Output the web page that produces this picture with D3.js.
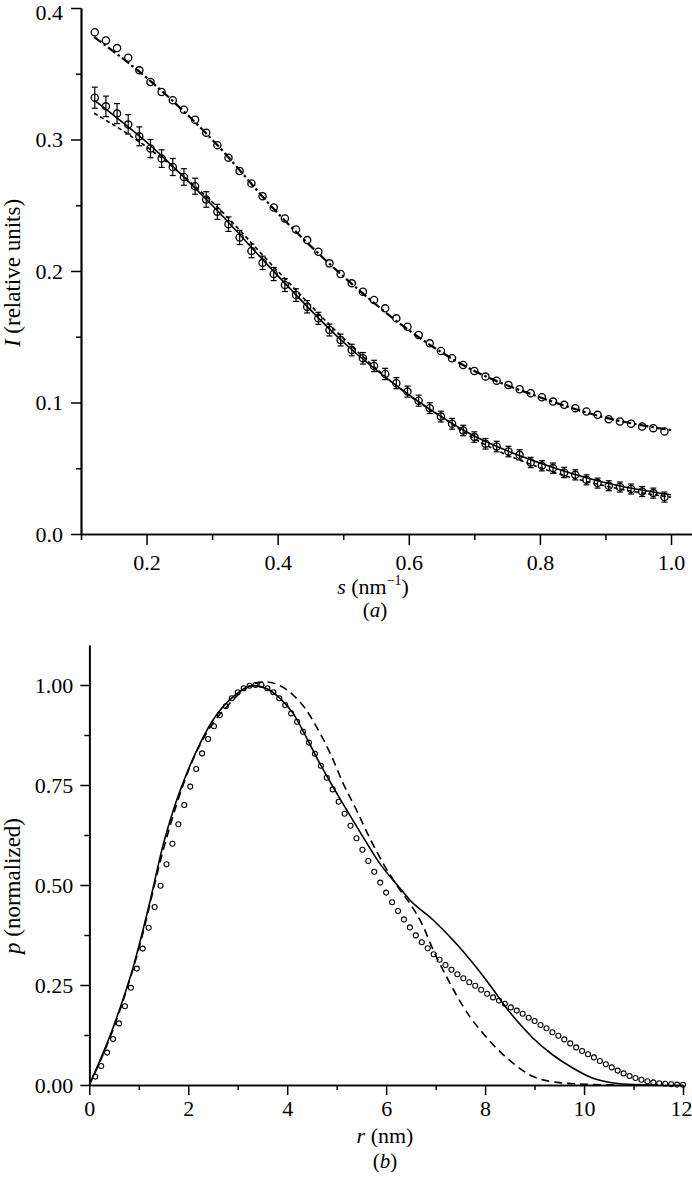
<!DOCTYPE html>
<html><head><meta charset="utf-8">
<script src="https://cdn.jsdelivr.net/npm/d3@7"></script>
<style>
body{margin:0;background:#fff}
svg{display:block}
</style>
</head><body>
<svg id="chart" width="692" height="1177"></svg>
<script>
// ---------- Panel (a) data ----------
const sGrid = [0.121,0.138,0.155,0.172,0.189,0.206,0.223,0.240,0.257,0.274,0.291,0.308,0.325,0.342,0.360,0.377,0.394,0.411,0.428,0.445,0.462,0.479,0.496,0.513,0.530,0.547,0.564,0.581,0.598,0.615,0.632,0.649,0.666,0.683,0.700,0.717,0.734,0.752,0.769,0.786,0.803,0.820,0.837,0.854,0.871,0.888,0.905,0.922,0.939,0.956,0.973,0.990];
const upperObs = [0.3816,0.3753,0.3695,0.3622,0.3526,0.3437,0.3361,0.3298,0.3227,0.3151,0.3052,0.2956,0.2862,0.2761,0.2665,0.2569,0.2483,0.2399,0.2316,
  0.2235,0.2146,0.2058,0.1977,0.1906,0.1842,0.1779,0.1716,0.1640,0.1576,0.1513,0.1450,0.1392,0.1336,0.1285,0.1240,0.1197,0.1166,0.1134,0.1101,0.1071,0.1040,0.1007,0.0982,0.0957,0.0931,0.0906,0.0873,0.0855,0.0838,0.0817,0.0805,0.0779];
const lowerObs = [0.3318,0.3252,0.3197,0.3115,0.3024,0.2931,0.2855,0.2791,0.2715,0.2645,0.2544,0.2450,0.2356,0.2255,0.2153,0.2062,0.1977,0.1893,0.1817,
  0.1728,0.1640,0.1551,0.1475,0.1399,0.1336,0.1278,0.1217,0.1147,0.1083,0.1014,0.0957,0.0893,0.0838,0.0787,0.0737,0.0686,0.0665,0.0627,0.0602,0.0544,0.0519,0.0501,0.0468,0.0450,0.0412,0.0387,0.0367,0.0357,0.0342,0.0323,0.0311,0.0281];
const lowerErr = [0.0080,0.0078,0.0076,0.0074,0.0072,0.0069,0.0067,0.0065,0.0063,0.0061,0.0059,0.0057,0.0055,0.0054,0.0052,0.0051,0.0050,0.0049,0.0048,0.0047,0.0046,0.0045,0.0045,0.0044,0.0044,0.0043,0.0043,0.0042,0.0042,0.0042,0.0041,0.0041,0.0041,0.0040,0.0040,0.0040,0.0040,0.0040,0.0039,0.0039,0.0039,0.0039,0.0039,0.0039,0.0038,0.0038,0.0038,0.0038,0.0038,0.0038,0.0038,0.0038];
// fit curves (knots)
const upperFitS = [0.12,0.2,0.3,0.4,0.5,0.6,0.7,0.8,0.9,1.0];
const upperFitI = [0.378,0.347,0.300,0.244,0.196,0.155,0.124,0.104,0.0885,0.079];
const lowerSolidS = [0.12,0.2,0.3,0.4,0.5,0.6,0.7,0.8,0.9,1.0];
const lowerSolidI = [0.330,0.298,0.250,0.1965,0.146,0.106,0.0745,0.054,0.039,0.0298];
const lowerDashS = [0.12,0.175,0.22,0.3,0.4,0.5,0.6,0.65,0.7,0.8,0.9,1.0];
const lowerDashI = [0.320,0.303,0.287,0.2525,0.200,0.149,0.1055,0.089,0.0725,0.0505,0.0365,0.028];
const sMajorTicks = [0.2,0.4,0.6,0.8,1.0];
const sMinorTicks = [0.1,0.3,0.5,0.7,0.9];
const iMajorTicks = [0.0,0.1,0.2,0.3,0.4];
const iMinorTicks = [0.05,0.15,0.25,0.35];

// ---------- Panel (b) data ----------
const rGrid = [0.12,0.24,0.36,0.48,0.60,0.72,0.84,0.96,1.08,1.20,1.32,1.44,1.56,1.68,1.80,1.92,2.04,2.16,2.28,2.40,2.52,2.64,2.76,2.88,3.00,3.12,3.24,3.36,3.48,3.60,3.72,3.84,3.96,4.08,4.20,4.32,4.44,4.56,4.68,4.80,4.92,5.04,5.16,5.28,5.40,5.52,5.64,5.76,5.88,6.00,6.12,6.24,6.36,6.48,6.60,6.72,6.84,6.96,7.08,7.20,7.32,7.44,7.56,7.68,7.80,7.92,8.04,8.16,8.28,8.40,8.52,8.64,8.76,8.88,9.00,9.12,9.24,9.36,9.48,9.60,9.72,9.84,9.96,10.08,10.20,10.32,10.44,10.56,10.68,10.80,10.92,11.04,11.16,11.28,11.40,11.52,11.64,11.76,11.88,12.00];
const pObs = [0.021,0.0475,0.081,0.115,0.154,0.197,0.243,0.291,0.341,0.393,0.445,0.498,0.552,0.603,0.652,0.700,0.746,0.790,0.829,0.865,0.897,0.925,0.947,0.967,0.982,0.992,0.998,1.000,1.000,0.992,0.982,0.967,0.950,0.929,0.908,0.883,0.856,0.828,0.798,0.768,0.739,0.708,0.678,0.648,0.617,0.588,0.560,0.533,0.506,0.481,0.457,0.435,0.414,0.394,0.374,0.357,0.342,0.327,0.313,0.300,0.288,0.277,0.267,0.257,0.248,0.238,0.228,0.219,0.211,0.203,0.194,0.186,0.178,0.168,0.160,0.150,0.142,0.132,0.123,0.114,0.104,0.094,0.085,0.077,0.069,0.060,0.052,0.044,0.036,0.029,0.0225,0.0175,0.013,0.0095,0.0065,0.0045,0.003,0.002,0.001,0.0005];
const solidR = [0,0.5,0.89,1.2,1.5,1.7,1.97,2.24,2.5,2.91,3.31,3.6,3.85,4.12,4.4,4.66,5.06,5.47,5.87,6.28,6.48,6.95,7.35,7.76,8.17,8.37,8.63,8.97,9.37,9.78,10.18,10.6,11.0,11.5];
const solidP = [0,0.15,0.296,0.445,0.604,0.6875,0.779,0.854,0.9125,0.971,0.9985,0.99,0.967,0.929,0.866,0.804,0.717,0.633,0.554,0.492,0.4625,0.4125,0.3625,0.304,0.2375,0.2025,0.1625,0.117,0.075,0.042,0.017,0.005,0.001,0];
const dashR = [0,0.5,1.0,1.5,2.0,2.5,2.81,3.2,3.55,3.89,4.12,4.36,4.59,4.9,5.13,5.40,5.67,5.94,6.28,6.48,6.75,6.95,7.15,7.42,7.69,7.96,8.23,8.57,8.97,9.5,10.0,10.7];
const dashP = [0,0.145,0.34,0.59,0.785,0.905,0.95,0.995,1.008,0.996,0.975,0.942,0.896,0.821,0.754,0.6875,0.617,0.554,0.4875,0.454,0.396,0.3375,0.2875,0.225,0.171,0.129,0.092,0.054,0.021,0.006,0.002,0];
const rMajorTicks = [0,2,4,6,8,10,12];
const rMinorTicks = [1,3,5,7,9,11];
const pMajorTicks = [0,0.25,0.5,0.75,1.0];
const pMinorTicks = [0.125,0.375,0.625,0.875];

const svg = d3.select("#chart");
const FONT = '"Liberation Serif", "Times New Roman", serif';
const FS = "22px";

function styleAxis(g){
  g.attr("font-family", null).attr("font-size", null);
  g.selectAll("path.domain").attr("stroke","#000").attr("stroke-width",1.7);
  g.selectAll(".tick line").attr("stroke","#000").attr("stroke-width",1.5);
  g.selectAll("text").style("font-family", FONT).style("font-size", FS).attr("fill","#000");
}
function label(x, y, size, rot){
  return svg.append("text")
    .attr("transform", rot ? `translate(${x},${y}) rotate(-90)` : `translate(${x},${y})`)
    .attr("text-anchor","middle").attr("fill","#000")
    .style("font-family", FONT).style("font-size", size+"px");
}

// ================= Panel (a) =================
const xA = d3.scaleLinear().domain([0.1,1.032]).range([81,692]);
const yA = d3.scaleLinear().domain([0,0.4]).range([534,8]);

const gA = svg.append("g");
gA.append("g").attr("transform","translate(0,534)")
  .call(d3.axisBottom(xA).tickValues(sMinorTicks).tickSize(6).tickSizeOuter(0).tickFormat(""))
  .call(styleAxis);
gA.append("g").attr("transform","translate(0,534)")
  .call(d3.axisBottom(xA).tickValues(sMajorTicks).tickSize(11).tickSizeOuter(0).tickPadding(9).tickFormat(d3.format(".1f")))
  .call(styleAxis);
gA.append("g").attr("transform","translate(81,0)")
  .call(d3.axisLeft(yA).tickValues(iMinorTicks).tickSize(5).tickSizeOuter(0).tickFormat(""))
  .call(styleAxis);
const yAxA = gA.append("g").attr("transform","translate(81,0)")
  .call(d3.axisLeft(yA).tickValues(iMajorTicks).tickSize(10).tickSizeOuter(0).tickPadding(8).tickFormat(d3.format(".1f")))
  .call(styleAxis);
yAxA.selectAll(".tick").filter(d=>d===0.4).select("text").attr("y",4);

const lineA = d3.line().curve(d3.curveMonotoneX);
gA.append("path")
  .attr("d", lineA(upperFitS.map((s,i)=>[xA(s), yA(upperFitI[i])])))
  .attr("fill","none").attr("stroke","#000").attr("stroke-width",2.2)
  .attr("stroke-dasharray","9,3,2.5,3");
gA.append("path")
  .attr("d", lineA(lowerSolidS.map((s,i)=>[xA(s), yA(lowerSolidI[i])])))
  .attr("fill","none").attr("stroke","#000").attr("stroke-width",1.6);
gA.append("path")
  .attr("d", lineA(lowerDashS.map((s,i)=>[xA(s), yA(lowerDashI[i])])))
  .attr("fill","none").attr("stroke","#000").attr("stroke-width",1.6)
  .attr("stroke-dasharray","4,3");

const eb = gA.append("g").attr("stroke","#000").attr("stroke-width",1.2);
sGrid.forEach((s,i)=>{
  const x = xA(s), y1 = yA(lowerObs[i]-lowerErr[i]), y2 = yA(lowerObs[i]+lowerErr[i]);
  eb.append("line").attr("x1",x).attr("x2",x).attr("y1",y1).attr("y2",y2);
  eb.append("line").attr("x1",x-3).attr("x2",x+3).attr("y1",y1).attr("y2",y1);
  eb.append("line").attr("x1",x-3).attr("x2",x+3).attr("y1",y2).attr("y2",y2);
});
gA.append("g").selectAll("circle").data(sGrid).join("circle")
  .attr("cx",d=>xA(d)).attr("cy",(d,i)=>yA(upperObs[i])).attr("r",3.6)
  .attr("fill","none").attr("stroke","#000").attr("stroke-width",1.3);
gA.append("g").selectAll("circle").data(sGrid).join("circle")
  .attr("cx",d=>xA(d)).attr("cy",(d,i)=>yA(lowerObs[i])).attr("r",3.6)
  .attr("fill","none").attr("stroke","#000").attr("stroke-width",1.3);

// labels (a)
const ylA = label(20, 273, 23, true);
ylA.append("tspan").style("font-style","italic").text("I");
ylA.append("tspan").text(" (relative units)");

const xlA = label(373, 594, 22, false);
xlA.append("tspan").style("font-style","italic").text("s");
xlA.append("tspan").text(" (nm");
xlA.append("tspan").style("font-size","14px").attr("dy",-9).text("\u22121");
xlA.append("tspan").attr("dy",9).text(")");

const capA = label(375, 617, 21, false);
capA.append("tspan").text("(");
capA.append("tspan").style("font-style","italic").text("a");
capA.append("tspan").text(")");

// ================= Panel (b) =================
const xB = d3.scaleLinear().domain([0,12]).range([89.3,683]);
const yB = d3.scaleLinear().domain([0,1.1]).range([1085,645]);

const gB = svg.append("g");
gB.append("g").attr("transform","translate(0,1085)")
  .call(d3.axisBottom(xB).tickValues(rMinorTicks).tickSize(5).tickSizeOuter(0).tickFormat(""))
  .call(styleAxis);
const xAxB = gB.append("g").attr("transform","translate(0,1085)")
  .call(d3.axisBottom(xB).tickValues(rMajorTicks).tickSize(10).tickSizeOuter(0).tickPadding(5).tickFormat(d3.format("d")))
  .call(styleAxis);
xAxB.selectAll(".tick").filter(d=>d===12).select("text").attr("x",-2);
gB.append("g").attr("transform","translate(89.3,0)")
  .call(d3.axisLeft(yB).tickValues(pMinorTicks).tickSize(5).tickSizeOuter(0).tickFormat(""))
  .call(styleAxis);
gB.append("g").attr("transform","translate(89.3,0)")
  .call(d3.axisLeft(yB).tickValues(pMajorTicks).tickSize(9).tickSizeOuter(0).tickPadding(7).tickFormat(d3.format(".2f")))
  .call(styleAxis);

const lineB = d3.line().curve(d3.curveMonotoneX);
gB.append("path")
  .attr("d", lineB(solidR.map((r,i)=>[xB(r), yB(solidP[i])])))
  .attr("fill","none").attr("stroke","#000").attr("stroke-width",1.6);
gB.append("path")
  .attr("d", lineB(dashR.map((r,i)=>[xB(r), yB(dashP[i])])))
  .attr("fill","none").attr("stroke","#000").attr("stroke-width",1.6)
  .attr("stroke-dasharray","8,5");
gB.append("g").selectAll("circle").data(rGrid).join("circle")
  .attr("cx",d=>xB(d)).attr("cy",(d,i)=>yB(pObs[i])).attr("r",2.5)
  .attr("fill","none").attr("stroke","#000").attr("stroke-width",1.1);

const ylB = label(20, 886, 23, true);
ylB.append("tspan").style("font-style","italic").text("p");
ylB.append("tspan").text(" (normalized)");

const xlB = label(385, 1143, 22, false);
xlB.append("tspan").style("font-style","italic").text("r");
xlB.append("tspan").text(" (nm)");

const capB = label(385, 1168, 21, false);
capB.append("tspan").text("(");
capB.append("tspan").style("font-style","italic").text("b");
capB.append("tspan").text(")");
</script>
</body></html>
